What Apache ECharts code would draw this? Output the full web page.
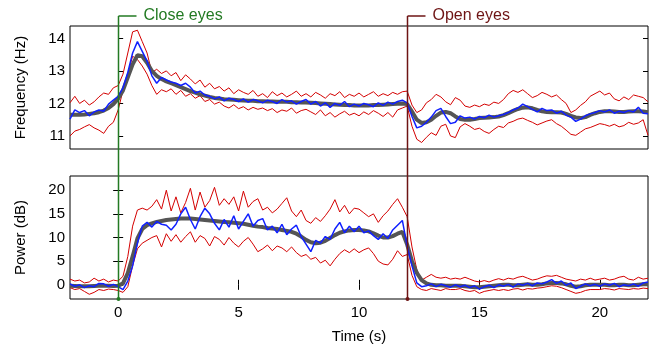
<!DOCTYPE html>
<html>
<head>
<meta charset="utf-8">
<script src="https://cdn.jsdelivr.net/npm/echarts@6/dist/echarts.min.js"></script>
<style>
  html, body { margin: 0; padding: 0; background: #fff; }
  #chart { width: 659px; height: 347px; }
</style>
</head>
<body>
<div id="chart"></div>
<script>
// sampling: one value every 0.2 s from -2 s to 22 s (121 samples)
var T0 = -2, DT = 0.2;
var xTicks = [0, 5, 10, 15, 20];
var freqTicks = [11, 12, 13, 14];
var powTicks = [0, 5, 10, 15, 20];
var events = [{ t: 0, label: 'Close eyes', color: '#237a23' }, { t: 12, label: 'Open eyes', color: '#6e1414' }];

// Frequency (Hz)
var freqMean = [
  11.65,11.65,11.65,11.66,11.68,11.70,11.73,11.78,11.86,11.98,
  12.15,12.40,12.80,13.20,13.48,13.45,13.25,13.00,12.85,12.75,
  12.68,12.62,12.56,12.50,12.44,12.38,12.33,12.28,12.24,12.20,
  12.17,12.15,12.13,12.12,12.11,12.10,12.09,12.08,12.08,12.07,
  12.07,12.06,12.06,12.05,12.05,12.05,12.04,12.04,12.03,12.03,
  12.02,12.01,12.00,11.99,11.98,11.97,11.96,11.95,11.95,11.94,
  11.94,11.94,11.94,11.95,11.95,11.96,11.97,11.98,11.99,12.00,
  11.98,11.75,11.50,11.40,11.42,11.50,11.62,11.72,11.74,11.70,
  11.60,11.52,11.50,11.50,11.52,11.55,11.56,11.57,11.58,11.60,
  11.64,11.70,11.77,11.83,11.87,11.88,11.85,11.80,11.76,11.74,
  11.73,11.73,11.72,11.68,11.62,11.57,11.55,11.58,11.65,11.70,
  11.74,11.76,11.76,11.75,11.74,11.74,11.75,11.76,11.76,11.75,
  11.73
];
var freqBlue = [
  11.52,11.80,11.72,11.78,11.62,11.74,11.80,11.76,11.98,12.10,
  12.22,12.48,12.95,13.55,13.90,13.60,13.30,12.85,12.62,12.80,
  12.72,12.66,12.62,12.55,12.62,12.50,12.32,12.38,12.26,12.22,
  12.14,12.20,12.08,12.16,12.12,12.06,12.14,12.04,12.12,12.08,
  12.02,12.10,12.06,12.00,12.12,12.04,12.08,11.98,12.06,12.12,
  11.98,12.06,11.92,12.02,11.88,12.00,11.94,12.06,11.90,11.98,
  11.92,12.00,11.96,11.90,12.02,11.94,12.04,11.98,12.06,12.10,
  12.02,11.60,11.25,11.30,11.42,11.58,11.78,11.85,11.60,11.38,
  11.42,11.62,11.55,11.58,11.52,11.60,11.56,11.64,11.58,11.62,
  11.66,11.72,11.80,11.86,11.98,11.90,11.82,11.74,11.85,11.78,
  11.80,11.70,11.76,11.64,11.58,11.45,11.52,11.62,11.68,11.72,
  11.78,11.74,11.80,11.70,11.76,11.72,11.78,11.74,11.88,11.70,
  11.68
];
var freqUpper = [
  12.02,12.22,12.00,12.10,11.95,12.05,12.20,12.32,12.28,12.48,
  12.55,12.90,13.55,14.20,14.25,13.90,13.55,12.95,13.05,12.92,
  13.00,12.85,12.95,12.70,12.88,12.75,12.60,12.72,12.50,12.62,
  12.45,12.52,12.38,12.48,12.30,12.42,12.34,12.28,12.40,12.22,
  12.30,12.18,12.36,12.24,12.32,12.20,12.28,12.38,12.22,12.30,
  12.20,12.34,12.26,12.16,12.30,12.24,12.36,12.18,12.28,12.22,
  12.32,12.20,12.28,12.36,12.22,12.30,12.24,12.34,12.28,12.36,
  12.38,11.95,11.72,11.80,12.02,12.12,12.28,12.20,12.05,11.96,
  12.18,12.10,11.92,11.88,11.95,11.90,11.98,11.94,12.04,12.00,
  12.12,12.30,12.40,12.34,12.42,12.30,12.18,12.24,12.34,12.28,
  12.20,12.26,12.12,12.00,11.72,11.80,11.94,12.05,12.22,12.30,
  12.38,12.26,12.32,12.14,12.08,12.20,12.12,12.26,12.22,12.18,
  12.05
];
var freqLower = [
  11.00,11.15,11.20,11.28,11.35,11.25,11.18,11.08,11.30,11.42,
  11.80,12.40,12.90,13.45,13.35,13.15,12.90,12.55,12.28,12.42,
  12.36,12.45,12.28,12.40,12.22,12.30,12.16,12.24,12.06,12.12,
  11.98,12.04,11.92,11.86,11.96,11.84,11.90,11.80,11.88,11.82,
  11.86,11.78,11.84,11.72,11.80,11.76,11.86,11.70,11.78,11.82,
  11.74,11.66,11.80,11.62,11.72,11.58,11.68,11.76,11.64,11.70,
  11.62,11.74,11.66,11.78,11.70,11.60,11.72,11.58,11.80,11.86,
  11.92,11.30,10.90,10.80,10.96,11.10,11.02,11.30,11.36,11.00,
  10.95,11.28,11.38,11.30,11.20,11.24,11.14,11.08,11.20,11.30,
  11.26,11.40,11.45,11.52,11.55,11.48,11.42,11.34,11.40,11.46,
  11.50,11.38,11.30,11.18,11.05,11.02,11.12,11.22,11.26,11.32,
  11.38,11.35,11.30,11.36,11.28,11.32,11.42,11.36,11.40,11.50,
  11.02
];

// Power (dB)
var powMean = [
  -0.2,-0.25,-0.3,-0.3,-0.3,-0.25,-0.2,-0.2,-0.2,-0.25,
  -0.2,0.3,2.5,6.0,9.8,11.8,12.6,13.0,13.3,13.5,
  13.7,13.8,13.9,14.0,14.0,14.0,13.9,13.8,13.7,13.6,
  13.5,13.4,13.3,13.2,13.1,13.0,12.9,12.7,12.5,12.3,
  12.2,12.0,11.9,11.8,11.6,11.4,11.2,10.8,10.2,9.5,
  9.0,8.8,8.9,9.3,9.9,10.5,11.0,11.3,11.5,11.6,
  11.6,11.5,11.3,10.9,10.4,10.0,10.0,10.3,10.8,11.2,
  8.5,5.0,2.5,1.0,0.3,0.0,-0.1,-0.1,-0.2,-0.2,
  -0.2,-0.2,-0.3,-0.4,-0.5,-0.5,-0.4,-0.3,-0.2,-0.1,
  0.0,0.0,-0.1,-0.1,0.0,0.1,0.0,0.0,0.1,0.3,
  0.4,0.4,0.3,0.1,-0.2,-0.4,-0.3,-0.1,0.0,0.0,
  0.0,0.0,-0.1,-0.1,0.0,0.0,-0.1,-0.1,0.0,0.1,
  0.1
];
var powBlue = [
  0.2,-0.3,0.0,-0.6,-0.2,-0.4,0.3,0.2,-0.3,0.1,
  -0.4,-1.0,0.8,4.0,8.8,12.4,13.2,12.2,13.4,12.8,
  12.6,11.6,12.8,15.0,16.4,13.8,11.8,14.4,16.2,15.0,
  13.0,11.6,13.8,12.2,14.6,11.8,13.4,15.0,12.4,13.6,
  14.0,11.6,12.4,11.0,12.8,10.6,11.8,12.6,10.2,8.6,
  7.0,9.4,8.8,10.2,9.6,11.8,13.2,11.0,12.4,11.2,
  12.4,11.0,11.4,10.4,9.6,10.8,9.8,11.6,12.6,13.6,
  8.2,4.0,0.4,-0.4,-0.2,0.2,-0.4,0.1,-0.2,-0.5,
  0.0,-0.4,-0.1,-0.6,-0.2,-0.9,-0.4,-0.1,-0.6,0.0,
  -0.3,0.1,-0.5,0.2,-0.1,0.3,-0.2,0.4,0.2,0.6,
  1.1,0.3,0.8,-0.1,0.4,-0.8,-0.3,0.2,-0.2,0.1,
  -0.3,0.2,-0.1,0.3,-0.4,0.0,-0.2,0.2,-0.3,0.4,
  0.6
];
var powUpper = [
  1.2,0.8,1.0,0.4,0.6,1.4,0.8,1.2,0.6,1.0,
  0.8,1.8,6.0,12.4,15.8,16.2,15.8,16.6,18.0,16.0,
  20.0,15.6,18.6,15.2,17.4,20.4,15.8,19.6,16.4,17.8,
  20.6,16.8,18.2,17.0,18.6,15.6,19.8,16.4,17.6,18.2,
  15.8,16.4,15.2,16.0,17.2,18.4,15.6,14.4,15.8,13.6,
  13.0,14.2,13.4,14.6,16.0,18.0,15.4,16.8,15.0,16.2,
  16.0,15.2,14.4,15.0,13.2,14.6,15.6,17.0,18.2,16.4,
  14.4,8.0,3.2,1.0,1.6,2.2,1.6,1.4,1.6,1.2,
  1.4,1.2,1.6,1.2,0.8,0.6,0.9,0.6,1.0,1.3,
  1.0,1.4,1.2,1.6,1.8,1.4,1.0,1.2,1.6,1.9,
  1.8,2.0,1.6,1.2,1.0,0.8,1.2,1.0,1.4,1.0,
  1.2,1.4,1.0,1.2,1.6,1.8,1.2,1.0,1.6,1.2,
  1.4
];
var powLower = [
  -0.6,-1.0,-0.8,-1.4,-2.0,-1.6,-1.0,-1.2,-0.9,-1.0,
  -1.2,-1.6,-0.4,4.0,7.6,8.8,9.4,10.0,10.4,8.0,
  10.8,9.2,10.6,9.0,10.2,11.2,9.0,10.4,9.8,8.2,
  10.2,9.6,8.4,10.0,8.8,8.0,9.2,10.0,8.6,7.0,
  7.6,8.4,7.2,8.2,7.8,7.0,8.0,6.8,6.0,6.4,
  5.4,5.8,4.6,5.2,4.0,5.4,6.6,7.4,6.8,7.6,
  6.8,7.4,7.8,6.6,5.0,4.4,4.2,5.4,7.2,6.0,
  6.4,2.0,-0.4,-1.0,-1.2,-0.8,-1.0,-1.2,-0.8,-1.0,
  -1.0,-0.8,-1.2,-1.4,-1.2,-1.8,-1.4,-1.2,-1.0,-1.2,
  -1.0,-1.2,-0.9,-0.8,-1.1,-0.8,-0.9,-0.7,-0.6,-0.4,
  -0.2,-0.3,-0.6,-1.0,-1.4,-1.8,-1.6,-1.2,-1.0,-1.0,
  -1.0,-0.8,-0.9,-1.1,-0.8,-0.9,-1.0,-0.8,-0.9,-0.7,
  -0.8
];

function pairs(arr) {
  return arr.map(function (v, i) { return [+(T0 + i * DT).toFixed(2), v]; });
}

var FONT = 'Liberation Sans, Arial, sans-serif';
var RED = '#d40000', BLUE = '#1020ff', GRAY = '#555555';

function tickAxis(grid, pos, isX, min, max, ticks, labels, name) {
  var a = {
    gridIndex: grid, type: 'value', position: pos, min: min, max: max,
    axisLine: { show: false },
    splitLine: { show: false },
    axisTick: { show: !!ticks, inside: true, length: 5, customValues: ticks || [], lineStyle: { color: '#000' } },
    axisLabel: { show: !!labels, customValues: ticks || [], color: '#000', fontSize: 15, fontFamily: FONT, margin: isX ? 6 : 5 }
  };
  if (name) {
    a.name = name;
    a.nameLocation = 'middle';
    a.nameGap = isX ? 30 : 42;
    a.nameTextStyle = { color: '#000', fontSize: 15, fontFamily: FONT };
  }
  return a;
}

function line(name, arr, xi, yi, color, width, z) {
  return {
    name: name, type: 'line', data: pairs(arr), xAxisIndex: xi, yAxisIndex: yi,
    showSymbol: false, symbol: 'none', z: z, animation: false,
    lineStyle: { color: color, width: width }
  };
}

var chart = echarts.init(document.getElementById('chart'));
chart.setOption({
  backgroundColor: '#fff',
  animation: false,
  grid: [
    { left: 70, top: 26, width: 578, height: 123, show: true, borderColor: '#000', borderWidth: 1 },
    { left: 70, top: 176, width: 578, height: 123, show: true, borderColor: '#000', borderWidth: 1 }
  ],
  xAxis: [
    tickAxis(0, 'bottom', true, -2, 22, null, false),
    tickAxis(1, 'bottom', true, -2, 22, xTicks, true, 'Time (s)'),
    tickAxis(1, 'top', true, -2, 22, xTicks, false)
  ],
  yAxis: [
    tickAxis(0, 'left', false, 10.6, 14.38, freqTicks, true, 'Frequency (Hz)'),
    tickAxis(0, 'right', false, 10.6, 14.38, freqTicks, false),
    tickAxis(1, 'left', false, -3, 23, powTicks, true, 'Power (dB)'),
    tickAxis(1, 'right', false, -3, 23, powTicks, false)
  ],
  series: [
    line('freqUpper', freqUpper, 0, 0, RED, 1, 2),
    line('freqLower', freqLower, 0, 0, RED, 1, 2),
    line('freqMean', freqMean, 0, 0, GRAY, 4, 3),
    line('freqBlue', freqBlue, 0, 0, BLUE, 1.5, 4),
    line('powUpper', powUpper, 1, 2, RED, 1, 2),
    line('powLower', powLower, 1, 2, RED, 1, 2),
    line('powMean', powMean, 1, 2, GRAY, 4, 3),
    line('powBlue', powBlue, 1, 2, BLUE, 1.5, 4)
  ]
});

// event markers: vertical line through both panels with a bracket label on top
var yTop = 16;
var yBot = chart.convertToPixel({ yAxisIndex: 2 }, -3);
var gfx = [];
events.forEach(function (e) {
  var x = Math.round(chart.convertToPixel({ xAxisIndex: 1 }, e.t)) + 0.5;
  gfx.push({ type: 'line', z: 100, shape: { x1: x, y1: yTop, x2: x, y2: yBot }, style: { stroke: e.color, lineWidth: 1.5 } });
  gfx.push({ type: 'line', z: 100, shape: { x1: x, y1: yTop, x2: x + 18, y2: yTop }, style: { stroke: e.color, lineWidth: 1.5 } });
  gfx.push({ type: 'circle', z: 100, shape: { cx: x, cy: yBot, r: 2 }, style: { fill: e.color } });
  gfx.push({ type: 'text', z: 100, x: x + 25, y: yTop, style: { text: e.label, fill: e.color, font: '16px ' + FONT, textVerticalAlign: 'middle' } });
});
chart.setOption({ graphic: gfx });
</script>
</body>
</html>
